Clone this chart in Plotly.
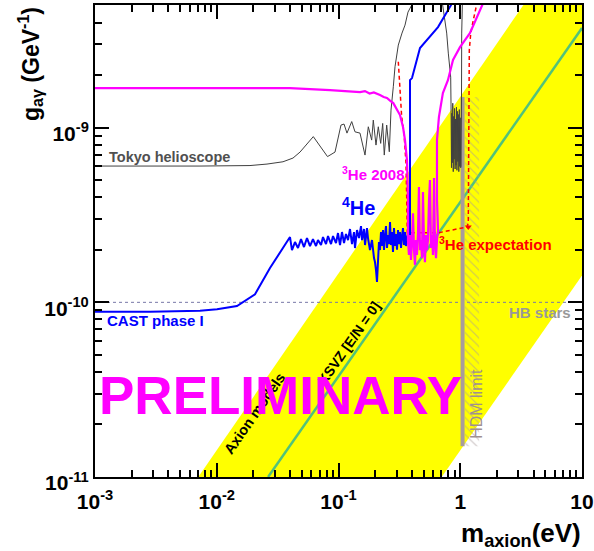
import math
import plotly.graph_objects as go

# ---------------- data (mass in eV, coupling in units of 1e-10 GeV^-1) ----------------
G_UNIT = 1e-10

tokyo_left_m = [0.001, 0.00728, 0.01875, 0.02587, 0.0350, 0.04229, 0.04828, 0.06209, 0.08124,
                0.09361, 0.1048, 0.1110, 0.1174, 0.1284, 0.1366, 0.1502, 0.1651, 0.1757, 0.1873,
                0.1931, 0.2032, 0.2123, 0.2221, 0.2307, 0.2377, 0.2488, 0.2614, 0.2699, 0.2750,
                0.2819, 0.2911, 0.3099, 0.3323, 0.3517, 0.3722, 0.3992, 0.4092]
tokyo_left_g = [6.03, 6.03, 6.07, 6.19, 6.38, 6.70, 7.25, 8.89, 6.83,
                7.25, 10.35, 10.49, 9.31, 10.84, 9.47, 9.31, 6.97, 10.12, 8.49,
                11.05, 7.95, 10.12, 8.13, 10.58, 6.97, 10.35, 7.28, 12.61, 14.39,
                17.15, 22.32, 29.71, 34.80, 38.66, 45.89, 50.32, 55.0]

tokyo_right_m = [0.704, 0.7738, 0.7978, 0.8348, 0.8395,
                 0.840, 0.847, 0.853, 0.861, 0.868, 0.876, 0.884, 0.891, 0.899, 0.907, 0.915,
                 0.923, 0.931, 0.939, 0.948, 0.956, 0.964, 0.973, 0.982, 0.990, 0.999, 1.008,
                 1.014, 1.024, 1.028, 1.043]
tokyo_right_g = [55.0, 34.80, 26.73, 19.48, 13.83,
                 13.5, 5.9, 12.1, 6.3, 13.8, 5.6, 11.6, 6.6, 12.9, 5.8, 11.2,
                 6.1, 13.1, 5.7, 12.4, 6.4, 11.9, 5.6, 12.7, 6.0, 11.4, 5.9,
                 6.0, 14.97, 34.80, 55.0]

he4_m = [0.001, 0.00283, 0.00728, 0.01005, 0.01466, 0.02062, 0.02737, 0.03996, 0.04149, 0.04392,
         0.04648, 0.04920, 0.05208, 0.05510, 0.05833, 0.06172, 0.06533, 0.06785, 0.07183, 0.07459,
         0.07896, 0.08201, 0.08681, 0.09015, 0.09539, 0.09906, 0.1029, 0.1068, 0.1110, 0.1152,
         0.1197, 0.1243, 0.1291, 0.1341, 0.1366, 0.1419, 0.1474, 0.1531, 0.1560, 0.1620,
         0.1651, 0.1714, 0.1747, 0.1814, 0.1884, 0.1957, 0.1994, 0.2032, 0.2071, 0.2110,
         0.2150, 0.2193, 0.2234, 0.2277, 0.2320, 0.2364, 0.2408, 0.2455, 0.2502, 0.2550,
         0.2599, 0.2649, 0.2699, 0.2750, 0.2803, 0.2857, 0.2911, 0.2967, 0.3023, 0.3081,
         0.3140, 0.3200, 0.3261, 0.3323, 0.3387, 0.3451, 0.3517, 0.3584, 0.3652, 0.3722,
         0.3794, 0.3866, 0.3866, 0.3866, 0.4015, 0.4671, 0.6566, 0.8395, 0.8800]
he4_g = [0.884, 0.884, 0.895, 0.912, 0.952, 1.111, 1.572, 2.365, 1.993, 2.214,
         2.046, 2.303, 2.073, 2.334, 2.101, 2.303, 2.101, 2.273, 2.128, 2.365,
         2.156, 2.396, 2.156, 2.396, 2.185, 2.493, 2.128, 2.526, 2.185, 2.460,
         2.273, 2.628, 2.156, 2.526, 2.046, 2.593, 2.334, 2.734, 2.273, 2.628,
         2.128, 2.663, 2.334, 1.993, 2.273, 1.793, 1.701, 1.531, 1.307, 1.701,
         2.214, 1.993, 2.526, 2.101, 2.593, 1.993, 2.396, 2.734, 2.046, 2.430,
         2.156, 2.882, 2.128, 2.526, 1.941, 2.663, 2.101, 2.460, 2.000, 2.593,
         2.156, 2.526, 2.046, 2.396, 2.663, 2.128, 2.526, 2.101, 2.334, 2.460,
         2.273, 2.396, 3.851, 18.73, 19.23, 28.56, 37.65, 50.3, 55.0]

he3_m = [0.001, 0.00728, 0.0400, 0.0852, 0.1502, 0.165, 0.180, 0.195, 0.2193, 0.235,
         0.250, 0.265, 0.2819, 0.3200, 0.3387, 0.3517, 0.3652, 0.3722, 0.3722,
         0.379, 0.387, 0.394, 0.402, 0.409, 0.417, 0.425, 0.433, 0.441, 0.450,
         0.458, 0.467, 0.476, 0.485, 0.494, 0.504, 0.513, 0.523, 0.533, 0.543,
         0.554, 0.564, 0.575, 0.586, 0.597, 0.609, 0.620, 0.632, 0.644, 0.657,
         0.644, 0.644, 0.668, 0.720, 0.792, 0.872, 0.995, 1.20, 1.54]
he3_g = [16.85, 16.85, 16.85, 16.41, 15.99, 16.2, 15.7, 15.9, 15.37, 15.0,
         14.8, 14.3, 13.83, 11.81, 10.08, 8.49, 6.52, 3.85, 2.27,
         1.87, 2.43, 1.75, 2.27, 3.24, 1.99, 1.64, 2.27, 1.87, 2.53,
         4.57, 1.99, 2.27, 1.79, 4.28, 2.13, 1.70, 2.43, 1.99, 2.27,
         3.85, 5.01, 2.05, 2.43, 1.87, 5.15, 2.13, 1.79, 2.27, 2.59,
         3.85, 8.5, 11.5, 15.8, 18.7, 24.4, 28.9, 34.8, 51.6]

he3_expect_m = [0.3099, 0.3200, 0.3303, 0.3451, 0.3584, 0.3631, 0.3673, 0.6566, 1.136,
                1.164, 1.164, 1.180, 1.187, 1.219, 1.280, 1.365, 1.399]
he3_expect_g = [23.84, 15.03, 11.54, 9.31, 6.27, 4.02, 2.50, 2.50, 2.70,
                2.84, 8.49, 14.39, 27.81, 34.66, 41.3, 49.2, 55.0]

ksvz_m = [0.0264, 10.0]
ksvz_g = [0.1, 37.2]

band_upper_m = [0.00705, 3.60]
band_upper_g = [0.1, 55.0]
band_lower_m = [0.704, 12.0]
band_lower_g = [0.1, 1.71]

hb_g = 1.0
hdm_m = 1.045
hdm_g = [0.15, 15.0]
hdm_hatch_m = [1.09, 1.43]

x_tick_vals = [1e-3, 1e-2, 1e-1, 1, 10]
x_tick_text = ["10<sup>-3</sup>", "10<sup>-2</sup>", "10<sup>-1</sup>", "1", "10"]
y_tick_vals = [1e-11, 1e-10, 1e-9]
y_tick_text = ["10<sup>-11</sup>", "10<sup>-10</sup>", "10<sup>-9</sup>"]


def scale(v):
    return [g * G_UNIT for g in v]


FONT = "Liberation Sans, Arial, sans-serif"
fig = go.Figure()

# yellow band of axion models
band_x = [band_upper_m[0], band_upper_m[1], band_lower_m[1], band_lower_m[1], band_lower_m[0]]
band_y = [band_upper_g[0], band_upper_g[1], band_upper_g[1], band_lower_g[1], band_lower_g[0]]
fig.add_trace(go.Scatter(x=band_x, y=scale(band_y), mode="lines", fill="toself",
                         fillcolor="#ffff00", line=dict(width=0), hoverinfo="skip"))

# HB stars
fig.add_trace(go.Scatter(x=[x_tick_vals[0], x_tick_vals[-1]], y=[hb_g * G_UNIT] * 2, mode="lines",
                         line=dict(color="#7878a8", width=1, dash="3px,3px")))

# KSVZ
fig.add_trace(go.Scatter(x=ksvz_m, y=scale(ksvz_g), mode="lines",
                         line=dict(color="#52c27a", width=2.5)))

# HDM limit: hatch + bar
hx = [hdm_hatch_m[0], hdm_hatch_m[1], hdm_hatch_m[1], hdm_hatch_m[0], hdm_hatch_m[0]]
hy = [hdm_g[0], hdm_g[0], hdm_g[1], hdm_g[1], hdm_g[0]]
fig.add_trace(go.Scatter(x=hx, y=scale(hy), mode="lines", fill="toself",
                         fillcolor="rgba(0,0,0,0)", line=dict(width=0),
                         fillpattern=dict(shape="\\", fgcolor="#a89a9a", bgcolor="rgba(0,0,0,0)",
                                          size=6, solidity=0.2)))
fig.add_trace(go.Scatter(x=[hdm_m, hdm_m], y=scale(hdm_g), mode="lines",
                         line=dict(color="#a89c9c", width=4)))

# Tokyo helioscope
fig.add_trace(go.Scatter(x=tokyo_left_m, y=scale(tokyo_left_g), mode="lines",
                         line=dict(color="#404040", width=1, simplify=False)))
fig.add_trace(go.Scatter(x=tokyo_right_m, y=scale(tokyo_right_g), mode="lines",
                         line=dict(color="#404040", width=1, simplify=False)))

# 3He expectation
fig.add_trace(go.Scatter(x=he3_expect_m, y=scale(he3_expect_g), mode="lines",
                         line=dict(color="#ff0000", width=1.5, dash="4px,3px")))
fig.add_trace(go.Scatter(x=[he3_expect_m[9]], y=[he3_expect_g[8] * G_UNIT], mode="markers",
                         marker=dict(symbol="triangle-down", size=6, color="#ff0000")))

# CAST 4He (phase I)
fig.add_trace(go.Scatter(x=he4_m, y=scale(he4_g), mode="lines",
                         line=dict(color="#0000ff", width=2, simplify=False)))
# CAST 3He 2008
fig.add_trace(go.Scatter(x=he3_m, y=scale(he3_g), mode="lines",
                         line=dict(color="#ff00ff", width=2.2, simplify=False)))


def ann(text, m, g, color, size, xanchor="left", angle=0, yanchor="middle"):
    fig.add_annotation(x=math.log10(m), y=math.log10(g), xref="x", yref="y", text=text,
                       showarrow=False, xanchor=xanchor, yanchor=yanchor, textangle=angle,
                       font=dict(family=FONT, size=size, color=color))


ann("<b>Tokyo helioscope</b>", 0.00125, 6.8e-10, "#505050", 14.5)
ann("<b>CAST phase I</b>", 0.00121, 0.792e-10, "#0000ff", 15)
ann("<b><sup>4</sup>He</b>", 0.1029, 3.55e-10, "#0000ff", 20)
ann("<b><sup>3</sup>He 2008</b>", 0.1029, 5.45e-10, "#ff00ff", 15)
ann("<b><sup>3</sup>He expectation</b>", 0.644, 2.16e-10, "#ff0000", 15)
ann("<b>HB stars</b>", 2.42, 0.88e-10, "#999999", 15)
ann("HDM limit", 1.37, 2.62e-11, "#a09090", 16, xanchor="center", angle=-90)
ann("<b>Axion models</b>", 0.0206, 2.32e-11, "#000000", 14.5, xanchor="center", angle=-55)
ann("<b>KSVZ [E/N = 0]</b>", 0.122, 5.85e-11, "#000000", 14, xanchor="center", angle=-55)
ann("<b>PRELIMINARY</b>", 0.0331, 2.91e-11, "#ff00ff", 53, xanchor="center")

# axis titles
fig.add_annotation(x=-0.1335, y=0.875, xref="paper", yref="paper", showarrow=False,
                   text="<b>g<sub>aγ</sub> (GeV<sup>-1</sup>)</b>", textangle=-90,
                   xanchor="center", yanchor="middle",
                   font=dict(family=FONT, size=23, color="black"))
fig.add_annotation(x=1.002, y=-0.122, xref="paper", yref="paper", showarrow=False,
                   text="<b>m<sub>axion</sub>(eV)</b>", xanchor="right", yanchor="middle",
                   font=dict(family=FONT, size=26, color="black"))

x_minor = [k * 10.0 ** e for e in range(-3, 1) for k in range(2, 10)]
y_minor = [k * 10.0 ** e for e in range(-11, -8) for k in range(2, 10)]

fig.update_xaxes(type="log", range=[-3, 1], showgrid=False, zeroline=False, automargin=False,
                 showline=True, linewidth=2, linecolor="black", mirror="allticks",
                 ticks="inside", ticklen=14, tickwidth=1.5, tickcolor="black",
                 tickmode="array", tickvals=x_tick_vals, ticktext=x_tick_text,
                 ticklabelstandoff=5,
                 tickfont=dict(family=FONT, size=21, color="black", weight="bold"),
                 minor=dict(tickmode="array", tickvals=x_minor, ticks="inside", ticklen=7,
                            tickwidth=1.5, tickcolor="black", showgrid=False))
fig.update_yaxes(type="log", range=[-11, math.log10(5.04e-9)], showgrid=False, zeroline=False,
                 automargin=False,
                 showline=True, linewidth=2, linecolor="black", mirror="allticks",
                 ticks="inside", ticklen=14, tickwidth=1.5, tickcolor="black",
                 tickmode="array", tickvals=y_tick_vals, ticktext=y_tick_text,
                 ticklabelshift=6,
                 tickfont=dict(family=FONT, size=21, color="black", weight="bold"),
                 minor=dict(tickmode="array", tickvals=y_minor, ticks="inside", ticklen=7,
                            tickwidth=1.5, tickcolor="black", showgrid=False))

fig.update_layout(width=594, height=551, showlegend=False,
                  margin=dict(l=95, r=12, t=5, b=74),
                  paper_bgcolor="white", plot_bgcolor="white",
                  font=dict(family=FONT))

fig.write_html("out.html", config={"displayModeBar": False},
               post_script="document.body.style.margin='0';")
